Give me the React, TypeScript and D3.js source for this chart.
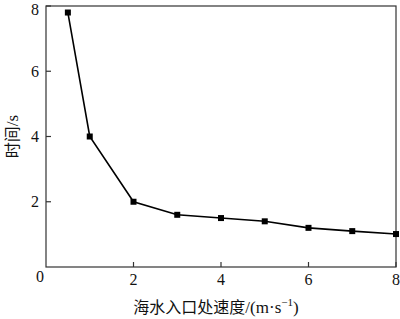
import React, { useEffect, useRef } from "react";
import * as d3 from "d3";

const speeds = [0.5, 1, 2, 3, 4, 5, 6, 7, 8];
const times = [7.8, 4.0, 2.0, 1.6, 1.5, 1.4, 1.2, 1.1, 1.01];
const xTicks = [2, 4, 6, 8];
const yTicks = [2, 4, 6, 8];

const W = 400;
const H = 319;
const M = { left: 46, right: 4, top: 6, bottom: 52 };

export default function App() {
  const ref = useRef<SVGSVGElement>(null);
  useEffect(() => {
    document.body.style.margin = "0";
    const svg = d3.select(ref.current);
    svg.selectAll("*").remove();
    const x = d3.scaleLinear().domain([0, 8]).range([M.left, W - M.right]);
    const y = d3.scaleLinear().domain([0, 8]).range([H - M.bottom, M.top]);
    const serif = "'Liberation Serif', 'Times New Roman', Times, serif";
    const cjk = "'Noto Sans CJK SC', sans-serif";
    const axisColor = "#333";

    svg.append("rect")
      .attr("x", x(0)).attr("y", y(8))
      .attr("width", x(8) - x(0)).attr("height", y(0) - y(8))
      .attr("fill", "none").attr("stroke", axisColor).attr("stroke-width", 1.2);

    xTicks.forEach((t) => {
      svg.append("line")
        .attr("x1", x(t)).attr("x2", x(t))
        .attr("y1", y(0)).attr("y2", y(0) - 5)
        .attr("stroke", axisColor).attr("stroke-width", 1.2);
      svg.append("text")
        .attr("x", x(t)).attr("y", y(0) + 17.5)
        .attr("text-anchor", "middle")
        .attr("font-family", serif).attr("font-size", 16)
        .attr("fill", "#111")
        .text(String(t));
    });
    yTicks.forEach((t) => {
      svg.append("line")
        .attr("x1", x(0)).attr("x2", x(0) + 5)
        .attr("y1", y(t)).attr("y2", y(t))
        .attr("stroke", axisColor).attr("stroke-width", 1.2);
      svg.append("text")
        .attr("x", x(0) - 7).attr("y", Math.max(y(t) + 5.5, 14.5))
        .attr("text-anchor", "end")
        .attr("font-family", serif).attr("font-size", 16)
        .attr("fill", "#111")
        .text(String(t));
    });
    svg.append("text")
      .attr("x", x(0) - 6).attr("y", y(0) + 15)
      .attr("text-anchor", "middle")
      .attr("font-family", serif).attr("font-size", 16)
      .attr("fill", "#111")
      .text("0");

    const line = d3.line<number>()
      .x((_, i) => x(speeds[i]))
      .y((d) => y(d));
    svg.append("path")
      .datum(times)
      .attr("d", line)
      .attr("fill", "none")
      .attr("stroke", "#000")
      .attr("stroke-width", 1.6);

    svg.selectAll("rect.pt")
      .data(times)
      .enter()
      .append("rect")
      .attr("class", "pt")
      .attr("x", (_, i) => x(speeds[i]) - 3)
      .attr("y", (d) => y(d) - 3)
      .attr("width", 6).attr("height", 6)
      .attr("fill", "#000");

    const xl = svg.append("text")
      .attr("x", 216).attr("y", 313)
      .attr("text-anchor", "middle")
      .attr("fill", "#111");
    xl.append("tspan").attr("font-family", cjk).attr("font-size", 16).text("海水入口处速度");
    xl.append("tspan").attr("font-family", serif).attr("font-size", 17).text("/(m·s");
    xl.append("tspan").attr("font-family", serif).attr("font-size", 11).attr("dy", -7).text("−1");
    xl.append("tspan").attr("font-family", serif).attr("font-size", 17).attr("dy", 7).text(")");

    const yl = svg.append("text")
      .attr("transform", `translate(18, ${(y(0) + y(8)) / 2}) rotate(-90)`)
      .attr("text-anchor", "middle")
      .attr("fill", "#111");
    yl.append("tspan").attr("font-family", cjk).attr("font-size", 16).text("时间");
    yl.append("tspan").attr("font-family", serif).attr("font-size", 17).text("/s");
  }, []);
  return (
    <svg
      ref={ref}
      width={W}
      height={H}
      style={{ position: "absolute", left: 0, top: 0, background: "#fff" }}
    />
  );
}
